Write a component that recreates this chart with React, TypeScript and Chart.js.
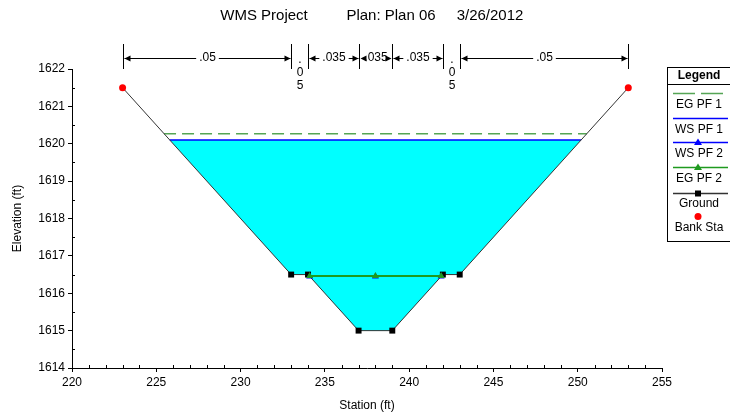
import React, { useEffect, useRef } from "react";
import { Chart, registerables } from "chart.js";

Chart.register(...registerables);

const FONT = '"Liberation Sans", Arial, sans-serif';

// Ground cross-section
const groundStations = [223, 233, 234, 237, 239, 242, 243, 253];
const groundElev = [1621.5, 1616.5, 1616.5, 1615, 1615, 1616.5, 1616.5, 1621.5];

// Bank stations
const bankStations = [223, 253];
const bankElev = [1621.5, 1621.5];

// Water surfaces / energy grades
const egPf1Stations = [225.46, 250.54];
const egPf1Elev = [1620.27, 1620.27];
const wsPf1Stations = [225.8, 250.2];
const wsPf1Elev = [1620.1, 1620.1];
const wsPf2Stations = [234.1, 238, 241.9];
const wsPf2Elev = [1616.45, 1616.45, 1616.45];
const egPf2Stations = [234.1, 238, 241.9];
const egPf2Elev = [1616.46, 1616.46, 1616.46];

// Manning's n
const nStations = [223, 233, 234, 237, 239, 242, 243, 253];
const nValues = [".05", ".05", ".035", ".035", ".035", ".05", ".05"];

// Axes
const xMin = 220, xMax = 255, xStep = 5;
const yMin = 1614, yMax = 1622, yStep = 1;

const titleParts = ["WMS Project", "Plan: Plan 06", "3/26/2012"];
const legendLabels = ["EG PF 1", "WS PF 1", "WS PF 2", "EG PF 2", "Ground", "Bank Sta"];

const pts = (xs: number[], ys: number[]) => xs.map((x, i) => ({ x, y: ys[i] }));

// water polygon: WS PF 1 edges + ground points below it
const waterPoly = (() => {
  const inner = groundStations
    .map((s, i) => ({ x: s, y: groundElev[i] }))
    .filter((p) => p.x > wsPf1Stations[0] && p.x < wsPf1Stations[1]);
  const poly = [{ x: wsPf1Stations[0], y: wsPf1Elev[0] }, ...inner, { x: wsPf1Stations[1], y: wsPf1Elev[1] }];
  poly.push({ ...poly[0] });
  return poly;
})();

const GREEN = "#1f9a1f";
const EGGREEN = "#55a555";
const BLUE = "#0000ff";

function drawArrowHead(ctx: CanvasRenderingContext2D, x: number, y: number, dir: number) {
  ctx.beginPath();
  ctx.moveTo(x, y);
  ctx.lineTo(x - dir * 6, y - 3);
  ctx.lineTo(x - dir * 6, y + 3);
  ctx.closePath();
  ctx.fill();
}

const decorPlugin = {
  id: "decor",
  afterDraw(chart: any) {
    const ctx: CanvasRenderingContext2D = chart.ctx;
    const xs = chart.scales.x;
    const ys = chart.scales.y;
    const area = chart.chartArea;
    ctx.save();
    ctx.fillStyle = "#000";
    ctx.strokeStyle = "#000";
    ctx.lineWidth = 1;

    // minor ticks
    ctx.beginPath();
    for (let v = xMin + 1; v < xMax; v++) {
      if (v % xStep === 0) continue;
      const px = Math.round(xs.getPixelForValue(v)) + 0.5;
      ctx.moveTo(px, area.bottom);
      ctx.lineTo(px, area.bottom - 3);
    }
    for (let v = yMin + 0.5; v < yMax; v += 1) {
      const py = Math.round(ys.getPixelForValue(v)) + 0.5;
      ctx.moveTo(area.left, py);
      ctx.lineTo(area.left + 3, py);
    }
    ctx.stroke();

    // title
    ctx.font = `15px ${FONT}`;
    ctx.textAlign = "center";
    ctx.textBaseline = "middle";
    const tx = [264, 391, 490];
    titleParts.forEach((t, i) => ctx.fillText(t, tx[i], 16));

    // axis titles
    ctx.font = `12px ${FONT}`;
    ctx.fillText("Station (ft)", (area.left + area.right) / 2, 406);
    ctx.save();
    ctx.translate(18, (area.top + area.bottom) / 2);
    ctx.rotate(-Math.PI / 2);
    ctx.fillText("Elevation (ft)", 0, 0);
    ctx.restore();

    // Manning's n annotations
    const yTop = 44, yBot = 69, yA = 58;
    ctx.beginPath();
    nStations.forEach((s) => {
      const px = Math.round(xs.getPixelForValue(s)) + 0.5;
      ctx.moveTo(px, yTop);
      ctx.lineTo(px, yBot);
    });
    ctx.stroke();
    ctx.font = `12px ${FONT}`;
    for (let i = 0; i < nValues.length; i++) {
      const a = Math.round(xs.getPixelForValue(nStations[i])) + 0.5;
      const b = Math.round(xs.getPixelForValue(nStations[i + 1])) + 0.5;
      const mid = (a + b) / 2;
      const w = b - a;
      const t = nValues[i];
      const tw = ctx.measureText(t).width;
      if (w >= tw + 6) {
        ctx.fillText(t, mid, yA);
        ctx.beginPath();
        if (mid - tw / 2 - 3 > a + 6) {
          ctx.moveTo(a + 1, yA + 0.5);
          ctx.lineTo(mid - tw / 2 - 3, yA + 0.5);
          ctx.moveTo(mid + tw / 2 + 3, yA + 0.5);
          ctx.lineTo(b - 1, yA + 0.5);
        }
        ctx.stroke();
        drawArrowHead(ctx, a + 1, yA + 0.5, -1);
        drawArrowHead(ctx, b - 1, yA + 0.5, 1);
      } else {
        const chars = t.split("");
        chars.forEach((c, k) => ctx.fillText(c, mid, 60 + k * 13));
      }
    }

    // legend box
    const lx = 667.5, ly = 67.5;
    ctx.strokeStyle = "#000";
    ctx.lineWidth = 1;
    ctx.strokeRect(lx, ly, 80, 174);
    ctx.beginPath();
    ctx.moveTo(lx, 84.5);
    ctx.lineTo(lx + 80, 84.5);
    ctx.stroke();
    ctx.font = `bold 12px ${FONT}`;
    ctx.fillText("Legend", 699, 76);
    ctx.font = `12px ${FONT}`;
    const sampleY = [93, 118, 142, 167, 193, 216];
    const labelY = [105, 130, 154, 179, 204, 228];
    const ds = chart.data.datasets;
    legendLabels.forEach((lab, i) => {
      const d = ds.find((q: any) => q.label === lab);
      const sy = sampleY[i] + 0.5;
      ctx.save();
      if (d && d.showLine) {
        ctx.strokeStyle = d.borderColor;
        ctx.lineWidth = 1.5;
        if (d.borderDash) ctx.setLineDash([22, 6]);
        ctx.beginPath();
        ctx.moveTo(673, sy);
        ctx.lineTo(728, sy);
        ctx.stroke();
      }
      ctx.restore();
      if (d) {
        const r = Array.isArray(d.pointRadius) ? Math.max(...d.pointRadius) : d.pointRadius;
        if (r > 0) {
          ctx.fillStyle = d.pointBackgroundColor || d.backgroundColor;
          ctx.beginPath();
          if (d.pointStyle === "rect") {
            ctx.rect(698 - 3, sy - 3, 6, 6);
          } else if (d.pointStyle === "triangle") {
            ctx.moveTo(698, sy - 4);
            ctx.lineTo(702, sy + 2.5);
            ctx.lineTo(694, sy + 2.5);
            ctx.closePath();
          } else {
            ctx.arc(698, sy, 3.5, 0, Math.PI * 2);
          }
          ctx.fill();
        }
      }
      ctx.fillStyle = "#000";
      ctx.fillText(lab, 699, labelY[i]);
    });

    ctx.restore();
  },
};

export default function App() {
  const ref = useRef<HTMLCanvasElement | null>(null);
  useEffect(() => {
    if (!ref.current) return;
    const last = groundStations.length - 1;
    const chart = new Chart(ref.current, {
      type: "scatter",
      data: {
        datasets: [
          {
            label: "Bank Sta",
            data: pts(bankStations, bankElev),
            showLine: false,
            pointStyle: "circle",
            pointRadius: 3.5,
            backgroundColor: "#ff0000",
            borderColor: "#ff0000",
            pointBorderWidth: 0,
          } as any,
          {
            label: "EG PF 2",
            data: pts(egPf2Stations, egPf2Elev),
            showLine: true,
            borderColor: GREEN,
            borderWidth: 2,
            pointStyle: "triangle",
            pointRadius: 4,
            pointBackgroundColor: GREEN,
            backgroundColor: GREEN,
            pointBorderWidth: 0,
          },
          {
            label: "WS PF 2",
            data: pts(wsPf2Stations, wsPf2Elev),
            showLine: true,
            borderColor: BLUE,
            borderWidth: 1,
            pointStyle: "triangle",
            pointRadius: 4,
            pointBackgroundColor: BLUE,
            backgroundColor: BLUE,
            pointBorderWidth: 0,
          },
          {
            label: "Ground",
            data: pts(groundStations, groundElev),
            showLine: true,
            borderColor: "#333333",
            borderWidth: 1,
            pointStyle: "rect",
            pointRadius: groundStations.map((_, i) => (i === 0 || i === last ? 0 : 4.2)),
            pointBackgroundColor: "#000000",
            backgroundColor: "#000000",
            pointBorderWidth: 0,
          },
          {
            label: "WS PF 1",
            data: pts(wsPf1Stations, wsPf1Elev),
            showLine: true,
            borderColor: BLUE,
            borderWidth: 1.5,
            pointRadius: 0,
          },
          {
            label: "EG PF 1",
            data: pts(egPf1Stations, egPf1Elev),
            showLine: true,
            borderColor: EGGREEN,
            borderWidth: 1.5,
            borderDash: [12, 6],
            pointRadius: 0,
          },
          {
            label: "water",
            data: waterPoly,
            showLine: true,
            borderWidth: 0,
            borderColor: "rgba(0,0,0,0)",
            backgroundColor: "#00ffff",
            fill: "shape",
            pointRadius: 0,
          } as any,
        ],
      },
      options: {
        animation: false,
        responsive: false,
        layout: { padding: { left: 0, top: 69, right: 68, bottom: 0 } },
        plugins: { legend: { display: false }, tooltip: { enabled: false }, title: { display: false } },
        scales: {
          x: {
            type: "linear",
            min: xMin,
            max: xMax,
            afterFit: (s: any) => { s.height = 49; },
            ticks: { stepSize: xStep, color: "#000", padding: 3, font: { family: FONT, size: 12 }, callback: (v: any) => String(v) },
            grid: { display: true, drawOnChartArea: false, drawTicks: true, tickLength: 4, color: "#000" },
            border: { display: true, color: "#000", width: 1 },
          },
          y: {
            type: "linear",
            min: yMin,
            max: yMax,
            afterFit: (s: any) => { s.width = 72; },
            ticks: { stepSize: yStep, color: "#000", padding: 3, font: { family: FONT, size: 12 }, callback: (v: any) => String(v) },
            grid: { display: true, drawOnChartArea: false, drawTicks: true, tickLength: 4, color: "#000" },
            border: { display: true, color: "#000", width: 1 },
          },
        },
      } as any,
      plugins: [decorPlugin],
    });
    return () => chart.destroy();
  }, []);
  return (
    <div style={{ position: "absolute", left: 0, top: 0, width: 730, height: 417, background: "#fff" }}>
      <canvas ref={ref} width={730} height={417} style={{ display: "block" }} />
    </div>
  );
}
